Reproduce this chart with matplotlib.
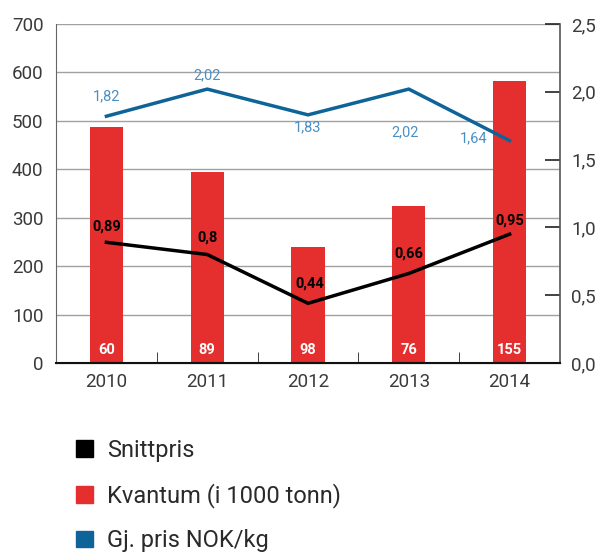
import matplotlib
matplotlib.use("Agg")
import matplotlib.pyplot as plt
from matplotlib.patches import Patch
from matplotlib.ticker import FuncFormatter

plt.rcParams["font.family"] = ["Roboto", "DejaVu Sans"]

# data
years = ["2010", "2011", "2012", "2013", "2014"]
kvantum = [487, 394, 240, 324, 582]          # bar heights (left axis)
kvantum_labels = ["60", "89", "98", "76", "155"]
snittpris = [0.89, 0.80, 0.44, 0.66, 0.95]   # right axis
gj_pris = [1.82, 2.02, 1.83, 2.02, 1.64]     # right axis

RED = "#e52e2e"
BLUE = "#0e6499"
BLUE_TXT = "#4a8fc4"
GRID = "#a0a0a0"
TXT = "#3a3a3a"

fig = plt.figure(figsize=(5.96, 5.52), dpi=100)
ax = fig.add_axes([0.094, 0.3424, 0.8456, 0.6141])
ax2 = ax.twinx()

x = list(range(len(years)))
ax.bar(x, kvantum, width=0.33, color=RED, zorder=2)
for xi, lab in zip(x, kvantum_labels):
    ax.text(xi, 26, lab, color="white", fontsize=10.5, fontweight="bold",
            ha="center", va="center", zorder=3)

ax.set_xlim(-0.5, 4.5)
ax.set_ylim(0, 700)
ax.set_yticks(range(0, 701, 100))
ax.yaxis.grid(True, color=GRID, lw=1.0, zorder=0)
ax.set_axisbelow(True)
ax.set_xticks(x)
ax.set_xticklabels(years)
ax.set_xticks([i + 0.5 for i in range(4)], minor=True)
ax.tick_params(axis="x", which="major", length=0, pad=7, labelsize=13.5, labelcolor=TXT)
ax.tick_params(axis="x", which="minor", direction="in", length=8, color="#222222")
ax.tick_params(axis="y", length=0, pad=9, labelsize=13.5, labelcolor=TXT)

ax2.set_ylim(0, 2.5)
ax2.set_yticks([0, 0.5, 1.0, 1.5, 2.0, 2.5])
ax2.yaxis.set_major_formatter(FuncFormatter(lambda v, p: f"{v:.1f}".replace(".", ",")))
ax2.tick_params(axis="y", direction="in", length=11, width=1.2, color="#222222",
                pad=8, labelsize=13.5, labelcolor=TXT)

for a in (ax, ax2):
    a.spines["top"].set_visible(False)
ax.spines["right"].set_visible(False)
ax.spines["left"].set_color("#666666")
ax2.spines["left"].set_visible(False)
ax2.spines["bottom"].set_color("#111111")
ax2.spines["bottom"].set_linewidth(1.5)
ax2.spines["right"].set_color("#555555")
ax2.spines["right"].set_linewidth(1.2)

ax2.plot(x, gj_pris, color=BLUE, lw=2.5, solid_joinstyle="miter", zorder=4)
ax2.plot(x, snittpris, color="black", lw=2.5, solid_joinstyle="miter", zorder=4)

fmt = lambda v: f"{v:g}".replace(".", ",")
blue_off = [(0, 14), (0, 10), (0, -9), (-3, -31), (-26, 2)]
for xi, v, off in zip(x, gj_pris, blue_off):
    ax2.annotate(f"{v:.2f}".replace(".", ","), (xi, v), xytext=off,
                 textcoords="offset points", ha="center", va="center",
                 color=BLUE_TXT, fontsize=10.5)

black_off = [(0, 11), (0, 12), (1, 14), (0, 14), (0, 10)]
for xi, v, off in zip(x, snittpris, black_off):
    ax2.annotate(fmt(v), (xi, v), xytext=off, textcoords="offset points",
                 ha="center", va="center", color="black", fontsize=10.5,
                 fontweight="bold")

handles = [Patch(color="black", label="Snittpris"),
           Patch(color=RED, label="Kvantum (i 1000 tonn)"),
           Patch(color=BLUE, label="Gj. pris NOK/kg")]
fig.legend(handles=handles, loc="upper left", bbox_to_anchor=(0.128, 0.205),
           frameon=False, handlelength=0.72, handleheight=0.72,
           handletextpad=0.6, labelspacing=0.9, labelcolor="#2a2a2a",
           prop={"size": 17},
           borderaxespad=0, borderpad=0)

fig.savefig("out.png", dpi=100)
